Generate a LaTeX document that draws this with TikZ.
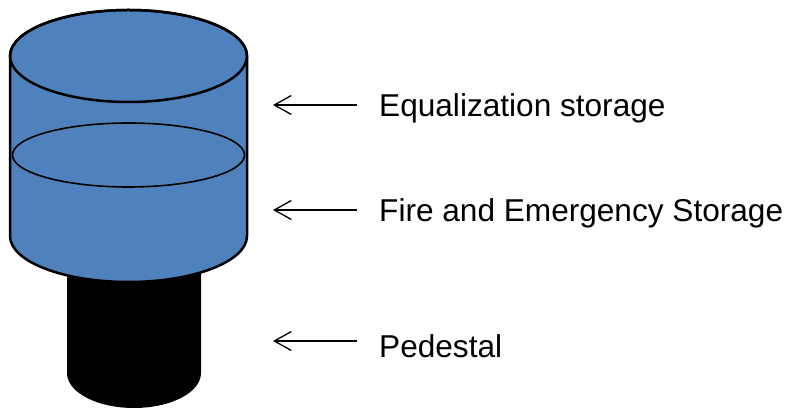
\documentclass[tikz,border=0pt]{standalone}
\usepackage{fontspec}
\setmainfont{Liberation Sans}
\usepackage{tikz}
\usetikzlibrary{arrows.meta}

\definecolor{tankblue}{RGB}{79,129,189}

\begin{document}
\begin{tikzpicture}[x=1pt,y=1pt,
  shell/.style={fill=tankblue,draw=black,line width=2.5pt,line join=round},
  level/.style={draw=black,line width=1.6pt},
  pointer/.style={-{Straight Barb[length=17pt,width=19pt]},line width=1.3pt},
  label/.style={anchor=base west,inner sep=0pt,font=\fontsize{31.6}{38}\selectfont}]
\useasboundingbox (0,0) rectangle (788,409);

% pedestal under the tank
\fill[black] (67,200) -- (67,36) arc[start angle=180,end angle=360,x radius=67,y radius=35] -- (201,200) -- cycle;

% tank body and water level
\draw[shell] (10,353) -- (10,173) arc[start angle=180,end angle=360,x radius=118.5,y radius=46] -- (247,353) arc[start angle=0,end angle=180,x radius=118.5,y radius=46] -- cycle;
\draw[line width=2.5pt] (128.5,353) ellipse[x radius=118.5,y radius=46];
\draw[level] (128.5,254) ellipse[x radius=116,y radius=32];

% labels
\node[label] (eq) at (379,292) {Equalization storage};
\node[label] (fire) at (379,187) {Fire and Emergency Storage};
\node[label] (ped) at (379,51) {Pedestal};

\coordinate (eqtail) at (357,304);
\coordinate (eqtip) at (273,304);
\coordinate (firetail) at (357,199);
\coordinate (firetip) at (273,199);
\coordinate (pedtail) at (357,68);
\coordinate (pedtip) at (273,68);

\draw[pointer] (eqtail) -- (eqtip);
\draw[pointer] (firetail) -- (firetip);
\draw[pointer] (pedtail) -- (pedtip);
\end{tikzpicture}
\end{document}
